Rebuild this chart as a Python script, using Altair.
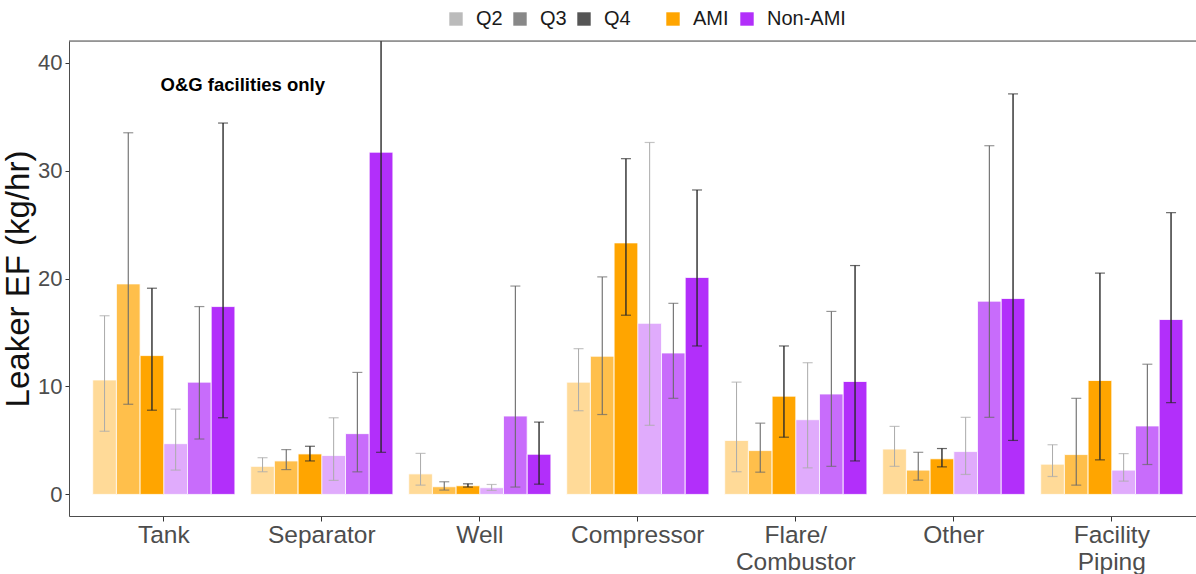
import altair as alt
import pandas as pd

# Source categories and series
categories = ["Tank", "Separator", "Well", "Compressor", "Flare/Combustor", "Other", "Facility Piping"]
groups = ["AMI", "Non-AMI"]
quarters = ["Q2", "Q3", "Q4"]

# Leaker emission factors (kg/hr): mean, lower and upper bounds per category
ami_q2_mean = [10.6, 2.6, 1.9, 10.4, 5.0, 4.2, 2.8]
ami_q2_lo = [5.85, 2.1, 0.86, 7.75, 2.1, 2.6, 1.66]
ami_q2_hi = [16.55, 3.4, 3.8, 13.5, 10.4, 6.3, 4.6]

ami_q3_mean = [19.5, 3.1, 0.71, 12.8, 4.06, 2.25, 3.69]
ami_q3_lo = [8.35, 2.3, 0.4, 7.4, 2.06, 1.32, 0.86]
ami_q3_hi = [33.5, 4.15, 1.17, 20.15, 6.6, 3.9, 8.9]

ami_q4_mean = [12.86, 3.75, 0.8, 23.3, 9.1, 3.3, 10.55]
ami_q4_lo = [7.8, 3.1, 0.68, 16.6, 5.3, 2.55, 3.2]
ami_q4_hi = [19.1, 4.46, 0.98, 31.1, 13.75, 4.25, 20.5]

non_q2_mean = [4.7, 3.6, 0.62, 15.85, 6.92, 3.97, 2.25]
non_q2_lo = [2.25, 1.3, 0.37, 6.4, 2.46, 1.85, 1.23]
non_q2_hi = [7.9, 7.1, 0.92, 32.6, 12.2, 7.14, 3.78]

non_q3_mean = [10.4, 5.63, 7.26, 13.1, 9.3, 17.9, 6.34]
non_q3_lo = [5.13, 2.09, 0.68, 8.9, 2.6, 7.14, 2.77]
non_q3_hi = [17.4, 11.3, 19.3, 17.7, 16.95, 32.3, 12.06]

non_q4_mean = [17.4, 31.7, 3.72, 20.1, 10.46, 18.15, 16.2]
non_q4_lo = [7.1, 3.9, 0.95, 13.75, 3.1, 5.0, 8.5]
non_q4_hi = [34.4, 62.0, 6.7, 28.2, 21.2, 37.1, 26.1]

series = {
    ("AMI", "Q2"): (ami_q2_mean, ami_q2_lo, ami_q2_hi),
    ("AMI", "Q3"): (ami_q3_mean, ami_q3_lo, ami_q3_hi),
    ("AMI", "Q4"): (ami_q4_mean, ami_q4_lo, ami_q4_hi),
    ("Non-AMI", "Q2"): (non_q2_mean, non_q2_lo, non_q2_hi),
    ("Non-AMI", "Q3"): (non_q3_mean, non_q3_lo, non_q3_hi),
    ("Non-AMI", "Q4"): (non_q4_mean, non_q4_lo, non_q4_hi),
}

# Error-bar styling per quarter
err_colors = {"Q2": "#ababab", "Q3": "#6a6a6a", "Q4": "#2a2a2a"}
err_widths = {"Q2": 1.0, "Q3": 1.1, "Q4": 1.4}

rows = []
for (g, q), (means, los, his) in series.items():
    for c, m, lo, hi in zip(categories, means, los, his):
        rows.append(dict(category=c, group=g, quarter=q, series=f"{g} {q}",
                         mean=m, lo=lo, hi=hi, ecol=err_colors[q], ew=err_widths[q]))
df = pd.DataFrame(rows)
series_order = [f"{g} {q}" for g in groups for q in quarters]

FONT = "Liberation Sans"

label_expr = ("datum.label == 'Flare/Combustor' ? ['Flare/', 'Combustor'] : "
              "datum.label == 'Facility Piping' ? ['Facility', 'Piping'] : datum.label")

x_enc = alt.X(
    "category:N", sort=categories,
    scale=alt.Scale(paddingInner=0.1, paddingOuter=0.1165, align=0.644),
    axis=alt.Axis(title=None, labelAngle=0, labelExpr=label_expr, labelFontSize=24.5,
                  labelColor="#4d4d4d", labelFont=FONT, labelLineHeight=27,
                  labelPadding=2, tickSize=5, tickColor="#333333",
                  domainColor="#4d4d4d", grid=False),
)
xo_enc = alt.XOffset("series:N", sort=series_order,
                     scale=alt.Scale(paddingInner=0, paddingOuter=0))
y_scale = alt.Scale(domain=[-2, 42], nice=False, zero=False)

base = alt.Chart(df)

bars = base.mark_bar(stroke="white", strokeWidth=0.8).encode(
    x=x_enc,
    xOffset=xo_enc,
    y=alt.Y("mean:Q", scale=y_scale,
            axis=alt.Axis(title="Leaker EF (kg/hr)", values=[0, 10, 20, 30, 40],
                          labelFontSize=22, labelColor="#4d4d4d", labelFont=FONT,
                          titleFont=FONT, titleFontSize=33, titleFontWeight="normal",
                          titleColor="#111111", titlePadding=2, tickSize=4,
                          tickColor="#333333", domainColor="#4d4d4d", grid=False,
                          labelPadding=3)),
    y2=alt.datum(0),
    color=alt.Color("group:N", scale=alt.Scale(domain=groups, range=["#FFA500", "#B22FFA"]),
                    legend=alt.Legend(title=None, orient="none", legendX=594, legendY=-32,
                                      direction="horizontal", symbolType="square",
                                      symbolSize=180, symbolStrokeWidth=0,
                                      labelFontSize=20, labelFont=FONT, labelColor="#1a1a1a",
                                      labelOffset=10, columnPadding=8, padding=0)),
    opacity=alt.Opacity("quarter:O",
                        scale=alt.Scale(type="ordinal", domain=quarters, range=[0.4, 0.7, 1.0]),
                        legend=alt.Legend(title=None, orient="none", legendX=377, legendY=-32,
                                          direction="horizontal", symbolType="square",
                                          symbolSize=180, symbolFillColor="#555555",
                                          symbolStrokeWidth=0, labelFontSize=20,
                                          labelFont=FONT, labelColor="#1a1a1a",
                                          labelOffset=10, columnPadding=7, padding=0)),
)

whiskers = base.mark_rule(clip=True).encode(
    x=x_enc, xOffset=xo_enc,
    y=alt.Y("lo:Q", scale=y_scale), y2="hi:Q",
    stroke=alt.Stroke("ecol:N", scale=None),
    strokeWidth=alt.StrokeWidth("ew:Q", scale=None),
)

caps_lo = base.mark_tick(clip=True, size=10, thickness=1.2).encode(
    x=x_enc, xOffset=xo_enc,
    y=alt.Y("lo:Q", scale=y_scale),
    fill=alt.Fill("ecol:N", scale=None),
)
caps_hi = base.mark_tick(clip=True, size=10, thickness=1.2).encode(
    x=x_enc, xOffset=xo_enc,
    y=alt.Y("hi:Q", scale=y_scale),
    fill=alt.Fill("ecol:N", scale=None),
)

# Panel top border
top_line = alt.Chart(pd.DataFrame({"y": [42]})).mark_rule(color="#4d4d4d", strokeWidth=1).encode(
    y=alt.Y("y:Q", scale=y_scale)
)

note = alt.Chart(pd.DataFrame({"category": ["Tank"], "y": [37.9],
                               "label": ["O&G facilities only"]})).mark_text(
    fontWeight="bold", fontSize=18.5, font=FONT, color="black", dx=79, align="center",
    baseline="middle"
).encode(x=alt.X("category:N", sort=categories), y=alt.Y("y:Q", scale=y_scale), text="label:N")

chart = alt.layer(bars, whiskers, caps_lo, caps_hi, top_line, note).properties(
    width=1127, height=475,
    autosize=alt.AutoSizeParams(type="none"),
    padding={"left": 69, "top": 41, "right": 0, "bottom": 58},
).configure_view(stroke=None).configure(background="white")

chart.save("out.html", embed_options={"renderer": "svg", "actions": False})
